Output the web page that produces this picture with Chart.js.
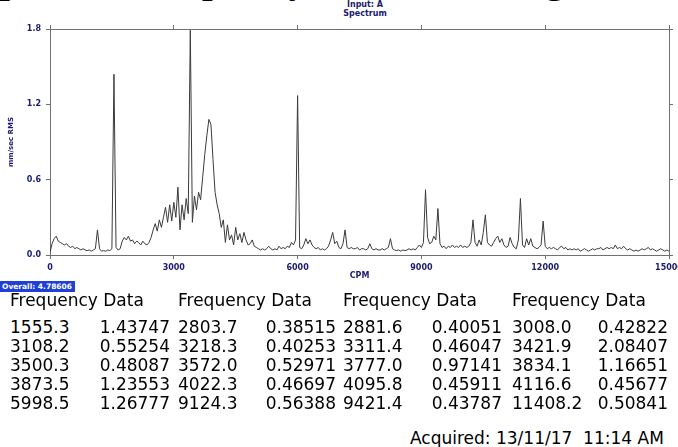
<!DOCTYPE html>
<html>
<head>
<meta charset="utf-8">
<script src="https://cdn.jsdelivr.net/npm/chart.js@4"></script>
<style>
  html, body { margin: 0; padding: 0; background: #fff; }
  #page { position: relative; width: 678px; height: 447px; overflow: hidden; background: #fff; }
  #heading { position: absolute; left: -22px; top: -39px; white-space: nowrap;
    font: bold 38px "Liberation Serif", serif; line-height: 38px; color: #000; }
  #chartBox { position: absolute; left: 0; top: 0; width: 678px; height: 290px; }
  .input { position: absolute; left: 325px; width: 80px; text-align: center;
    font: bold 8px "DejaVu Sans", sans-serif; color: #1a1a70; }
  #overall { position: absolute; left: 0; top: 281px; width: 75px; height: 11px;
    background: #1f3fd8; color: #fff; font: bold 7.5px "DejaVu Sans", sans-serif;
    line-height: 11px; padding-left: 2px; box-sizing: border-box; white-space: nowrap; }
  .cell { position: absolute; font: 17px "DejaVu Sans", sans-serif; color: #000; white-space: nowrap; }
  .num { text-align: right; width: 90px; }
</style>
</head>
<body>
<div id="page">
  <div id="heading">Spectrum frequency data of bearing</div>
  <div class="input" style="top:0px">Input: A</div>
  <div class="input" style="top:9px">Spectrum</div>
  <div id="chartBox"><canvas id="spectrum"></canvas></div>
  <div id="overall">Overall: 4.78606</div>
  <div id="table"></div>
  <div class="cell" style="left:410px; top:428px">Acquired: 13/11/17&nbsp;&nbsp;11:14 AM</div>
</div>
<script>
// Spectrum bins, 50 CPM apart, 0 .. 15000 CPM (mm/sec RMS)
const BIN_CPM = 50;
const amplitude = [
  0.02, 0.09, 0.13, 0.15, 0.11, 0.10, 0.09, 0.08, 0.09, 0.07, 0.06, 0.07, 0.05, 0.06, 0.05, 0.04, 0.05, 0.04, 0.035, 0.04,
  0.03, 0.04, 0.05, 0.20, 0.05, 0.03, 0.035, 0.03, 0.04, 0.035, 0.05, 1.44, 0.06, 0.04, 0.05, 0.11, 0.14, 0.12, 0.15, 0.11,
  0.12, 0.09, 0.11, 0.10, 0.08, 0.11, 0.09, 0.08, 0.10, 0.14, 0.20, 0.25, 0.19, 0.28, 0.22, 0.30, 0.38, 0.26, 0.40, 0.27,
  0.42, 0.30, 0.54, 0.20, 0.40, 0.28, 0.45, 0.33, 1.79, 0.26, 0.47, 0.36, 0.50, 0.44, 0.62, 0.80, 0.95, 1.08, 1.04, 0.76,
  0.50, 0.40, 0.33, 0.22, 0.28, 0.10, 0.24, 0.12, 0.16, 0.08, 0.22, 0.12, 0.17, 0.10, 0.18, 0.12, 0.08, 0.09, 0.12, 0.07,
  0.06, 0.05, 0.04, 0.05, 0.04, 0.05, 0.07, 0.05, 0.04, 0.05, 0.04, 0.07, 0.05, 0.06, 0.05, 0.07, 0.06, 0.10, 0.08, 0.12,
  1.27, 0.06, 0.05, 0.08, 0.13, 0.09, 0.12, 0.08, 0.06, 0.05, 0.06, 0.04, 0.05, 0.04, 0.05, 0.07, 0.12, 0.18, 0.09, 0.11,
  0.06, 0.05, 0.09, 0.20, 0.06, 0.05, 0.06, 0.05, 0.05, 0.06, 0.04, 0.05, 0.05, 0.04, 0.05, 0.09, 0.05, 0.04, 0.05, 0.04,
  0.04, 0.05, 0.04, 0.05, 0.06, 0.13, 0.05, 0.04, 0.035, 0.04, 0.03, 0.04, 0.035, 0.04, 0.05, 0.04, 0.05, 0.04, 0.06, 0.08,
  0.06, 0.10, 0.52, 0.14, 0.09, 0.10, 0.15, 0.12, 0.37, 0.09, 0.06, 0.07, 0.05, 0.07, 0.06, 0.08, 0.06, 0.07, 0.06, 0.08,
  0.06, 0.07, 0.06, 0.07, 0.10, 0.28, 0.10, 0.07, 0.12, 0.08, 0.18, 0.32, 0.10, 0.08, 0.07, 0.10, 0.13, 0.15, 0.10, 0.13,
  0.08, 0.06, 0.07, 0.14, 0.09, 0.06, 0.05, 0.12, 0.45, 0.08, 0.06, 0.13, 0.08, 0.13, 0.07, 0.06, 0.05, 0.06, 0.08, 0.27,
  0.07, 0.05, 0.06, 0.05, 0.06, 0.05, 0.04, 0.06, 0.07, 0.05, 0.06, 0.04, 0.05, 0.04, 0.05, 0.04, 0.05, 0.03, 0.04, 0.05,
  0.04, 0.03, 0.04, 0.05, 0.04, 0.05, 0.05, 0.06, 0.04, 0.05, 0.06, 0.05, 0.06, 0.05, 0.08, 0.05, 0.06, 0.05, 0.07, 0.05,
  0.04, 0.05, 0.04, 0.03, 0.04, 0.03, 0.04, 0.05, 0.04, 0.05, 0.06, 0.04, 0.05, 0.04, 0.03, 0.04, 0.05, 0.04, 0.03, 0.04,
  0.03
];
const xTicks = [0, 3000, 6000, 9000, 12000, 15000];
const yTicks = [0, 0.6, 1.2, 1.8];

// Frequency Data table, row by row
const tableFreq = [
  "1555.3", "2803.7", "2881.6", "3008.0",
  "3108.2", "3218.3", "3311.4", "3421.9",
  "3500.3", "3572.0", "3777.0", "3834.1",
  "3873.5", "4022.3", "4095.8", "4116.6",
  "5998.5", "9124.3", "9421.4", "11408.2",
];
const tableAmp = [
  "1.43747", "0.38515", "0.40051", "0.42822",
  "0.55254", "0.40253", "0.46047", "2.08407",
  "0.48087", "0.52971", "0.97141", "1.16651",
  "1.23553", "0.46697", "0.45911", "0.45677",
  "1.26777", "0.56388", "0.43787", "0.50841",
];

const NAVY = "#1a1a70";
const FRAME = "#707070";
const tickFont = { family: "DejaVu Sans", size: 8, weight: "bold" };
const titleFont = { family: "DejaVu Sans", size: 7, weight: "bold" };

function fixTicks(values) {
  return (scale) => {
    scale.ticks = values.map((v) => ({ value: v }));
  };
}

function buildTable() {
  const colFreq = [10, 178, 343, 512];
  const colAmpRight = [170, 336, 502, 668];
  const rowTop = [317, 336, 355, 374, 393];
  let html = "";
  colFreq.forEach((x) => {
    html += `<div class="cell" style="left:${x}px; top:290px">Frequency Data</div>`;
  });
  tableFreq.forEach((f, i) => {
    const r = Math.floor(i / 4);
    const c = i % 4;
    html += `<div class="cell" style="left:${colFreq[c]}px; top:${rowTop[r]}px">${f}</div>`;
    html += `<div class="cell num" style="left:${colAmpRight[c] - 90}px; top:${rowTop[r]}px">${tableAmp[i]}</div>`;
  });
  document.getElementById("table").innerHTML = html;
}

function initChart() {
  const ctx = document.getElementById("spectrum").getContext("2d");
  new Chart(ctx, {
    type: "line",
    data: {
      datasets: [
        {
          data: amplitude.map((v, i) => ({ x: i * BIN_CPM, y: v })),
          borderColor: "#3a3a3a",
          borderWidth: 1,
          pointRadius: 0,
          tension: 0,
        },
      ],
    },
    options: {
      responsive: true,
      maintainAspectRatio: false,
      animation: false,
      plugins: { legend: { display: false }, tooltip: { enabled: false } },
      layout: { padding: 0 },
      scales: {
        x: {
          type: "linear",
          position: "bottom",
          min: 0,
          max: 15000,
          afterBuildTicks: fixTicks(xTicks),
          afterFit: (s) => { s.height = 35; s.paddingLeft = 0; s.paddingRight = 0; },
          ticks: { color: NAVY, font: tickFont, padding: 4, maxRotation: 0, autoSkip: false,
            callback: (v) => String(v) },
          grid: { drawOnChartArea: false, tickLength: 4, color: FRAME },
          border: { color: FRAME },
          title: { display: true, text: "CPM", color: NAVY, font: tickFont, padding: { top: 0, bottom: 9 } },
        },
        x2: {
          type: "linear",
          position: "top",
          min: 0,
          max: 15000,
          afterBuildTicks: fixTicks(xTicks),
          afterFit: (s) => { s.height = 29; s.paddingLeft = 0; s.paddingRight = 0; },
          ticks: { display: false },
          grid: { drawOnChartArea: false, tickLength: 4, color: FRAME },
          border: { color: FRAME },
        },
        y: {
          min: 0,
          max: 1.8,
          afterBuildTicks: fixTicks(yTicks),
          afterFit: (s) => { s.width = 50; s.paddingTop = 0; s.paddingBottom = 0; },
          ticks: { color: NAVY, font: tickFont, padding: 5, callback: (v) => v.toFixed(1) },
          grid: { drawOnChartArea: false, tickLength: 4, color: FRAME },
          border: { color: FRAME },
          title: { display: true, text: "mm/sec RMS", color: NAVY, font: titleFont, padding: { top: 7, bottom: 0 } },
        },
        y2: {
          position: "right",
          min: 0,
          max: 1.8,
          afterBuildTicks: fixTicks(yTicks),
          afterFit: (s) => { s.width = 9; },
          ticks: { display: false },
          grid: { drawOnChartArea: false, tickLength: 4, color: FRAME },
          border: { color: FRAME },
        },
      },
    },
  });
}

buildTable();
initChart();
</script>
</body>
</html>
